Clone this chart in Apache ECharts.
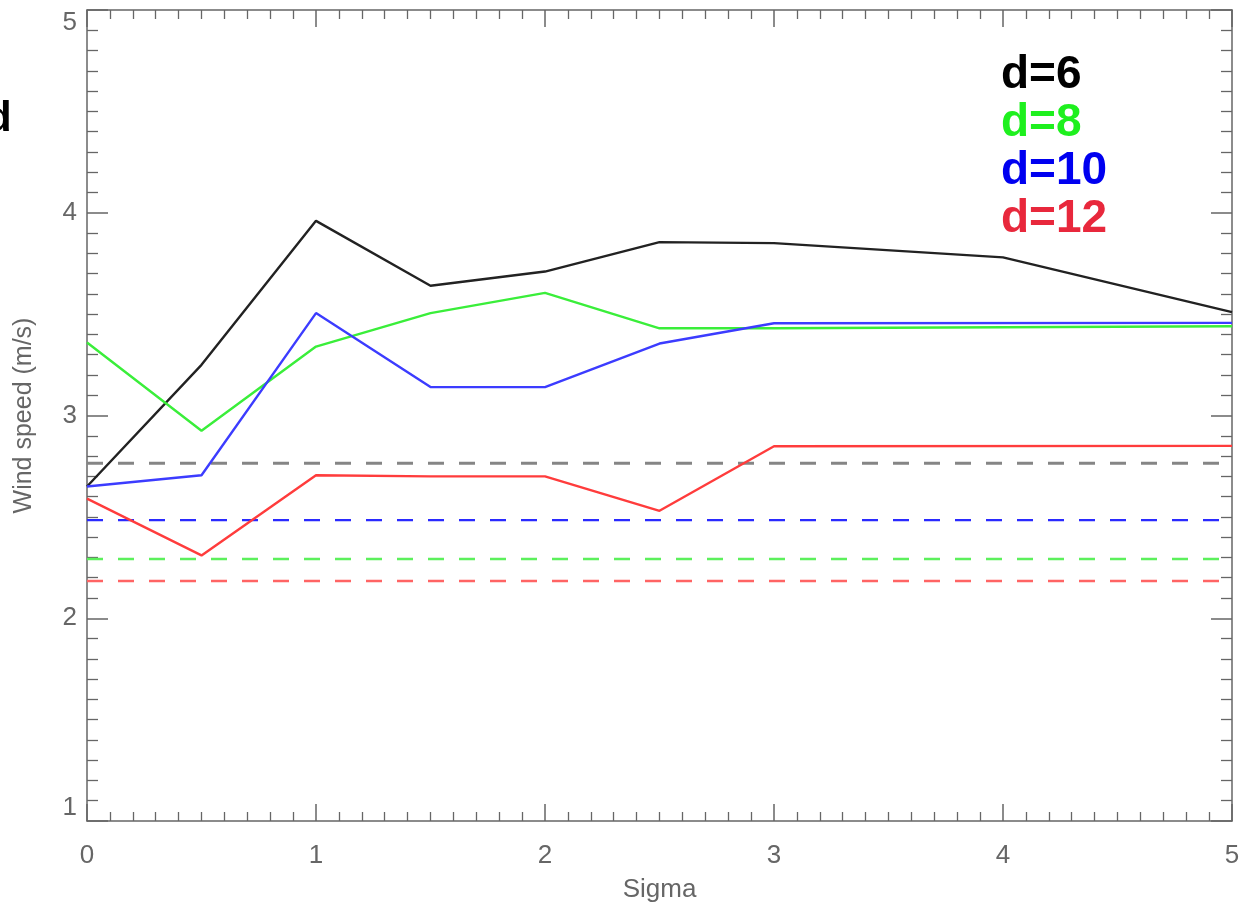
<!DOCTYPE html>
<html>
<head>
<meta charset="utf-8">
<script src="https://cdn.jsdelivr.net/npm/echarts@6/dist/echarts.min.js"></script>
<style>
  html, body { margin: 0; padding: 0; background: #fff; }
  #chart { width: 1250px; height: 908px; }
</style>
</head>
<body>
<div id="chart"></div>
<script>
// sigma values where the runs were made
const sigma = [0, 0.5, 1, 1.5, 2, 2.5, 3, 4, 5];
const sigmaShort = [0, 0.5, 1, 1.5, 2, 2.5, 3, 5];

// wind speed (m/s) per window size d
const d6 = [2.65, 3.25, 3.96, 3.64, 3.71, 3.855, 3.85, 3.78, 3.51];
const d8 = [3.36, 2.925, 3.34, 3.505, 3.605, 3.43, 3.43, 3.44];
const d10 = [2.65, 2.705, 3.505, 3.14, 3.14, 3.355, 3.455, 3.457];
const d12 = [2.59, 2.31, 2.705, 2.70, 2.70, 2.53, 2.848, 2.85];

// reference (dashed) levels
const refNames = ['ref d=6', 'ref d=8', 'ref d=10', 'ref d=12'];
const refLevels = [2.764, 2.292, 2.484, 2.184];

const legendNames = ['d=6', 'd=8', 'd=10', 'd=12'];
const lineColors = ['#222222', '#3aee3a', '#3c3cff', '#ff3c3c'];
const dashColors = ['#858585', '#5cf05c', '#2a2aff', '#ff6464'];
const textColors = ['#000000', '#1ef01e', '#0000f0', '#e8283c'];

const chart = echarts.init(document.getElementById('chart'));

const pair = (xs, ys) => ys.map((v, i) => [xs[i], v]);

const series = [];
refLevels.forEach((v, i) => {
  series.push({
    name: refNames[i],
    type: 'line',
    data: [[0, v], [5, v]],
    symbol: 'none',
    silent: true,
    lineStyle: { color: dashColors[i], width: i === 0 ? 3 : 2.4, type: [16, 15] },
    z: 2
  });
});
[[sigma, d6], [sigmaShort, d8], [sigmaShort, d10], [sigmaShort, d12]].forEach((p, i) => {
  series.push({
    name: legendNames[i],
    type: 'line',
    data: pair(p[0], p[1]),
    symbol: 'none',
    lineStyle: { color: lineColors[i], width: 2.4 },
    z: 3
  });
});

const axisLine = { show: true, onZero: false, lineStyle: { color: '#666', width: 1.5 } };
const labelStyle = { color: '#666', fontSize: 26, fontFamily: 'Liberation Sans' };
const xTick = { inside: true, length: 17, lineStyle: { color: '#666', width: 1.5 } };
const xMinor = { show: true, splitNumber: 10, length: 9, lineStyle: { color: '#666', width: 1.3 } };
const yTick = { inside: true, length: 21, lineStyle: { color: '#666', width: 1.5 } };
const yMinor = { show: true, splitNumber: 10, length: 11, lineStyle: { color: '#666', width: 1.3 } };

const option = {
  backgroundColor: '#fff',
  animation: false,
  grid: { left: 87, right: 18, top: 10, bottom: 84 },
  xAxis: [
    {
      type: 'value', min: 0, max: 5, interval: 1, position: 'bottom',
      name: 'Sigma', nameLocation: 'middle', nameGap: 56,
      nameTextStyle: { color: '#666', fontSize: 26, fontFamily: 'Liberation Sans' },
      axisLine: axisLine, axisTick: xTick, minorTick: xMinor,
      splitLine: { show: false },
      axisLabel: Object.assign({ margin: 22 }, labelStyle)
    },
    {
      type: 'value', min: 0, max: 5, interval: 1, position: 'top',
      axisLine: axisLine, axisTick: xTick, minorTick: xMinor,
      splitLine: { show: false },
      axisLabel: { show: false }
    }
  ],
  yAxis: [
    {
      type: 'value', min: 1, max: 5, interval: 1, position: 'left',
      name: 'Wind speed (m/s)', nameLocation: 'middle', nameGap: 50,
      nameTextStyle: { color: '#666', fontSize: 25, fontFamily: 'Liberation Sans' },
      axisLine: axisLine, axisTick: yTick, minorTick: yMinor,
      splitLine: { show: false },
      axisLabel: Object.assign({
        margin: 10,
        verticalAlignMaxLabel: 'top',
        verticalAlignMinLabel: 'bottom'
      }, labelStyle)
    },
    {
      type: 'value', min: 1, max: 5, interval: 1, position: 'right',
      axisLine: axisLine, axisTick: yTick, minorTick: yMinor,
      splitLine: { show: false },
      axisLabel: { show: false }
    }
  ],
  graphic: [
    // cut-off letter at the left edge of the source picture
    { type: 'text', left: -14, top: 98,
      style: { text: 'd', fontSize: 42, fontWeight: 'bold', fontFamily: 'Liberation Sans', fill: '#000' } }
  ].concat(legendNames.map((t, i) => ({
    type: 'text', left: 1001, top: 52 + i * 48,
    style: { text: t, fontSize: 46, fontWeight: 'bold', fontFamily: 'Liberation Sans', fill: textColors[i] }
  }))),
  series: series
};

chart.setOption(option);
window.addEventListener('resize', chart.resize);
</script>
</body>
</html>
